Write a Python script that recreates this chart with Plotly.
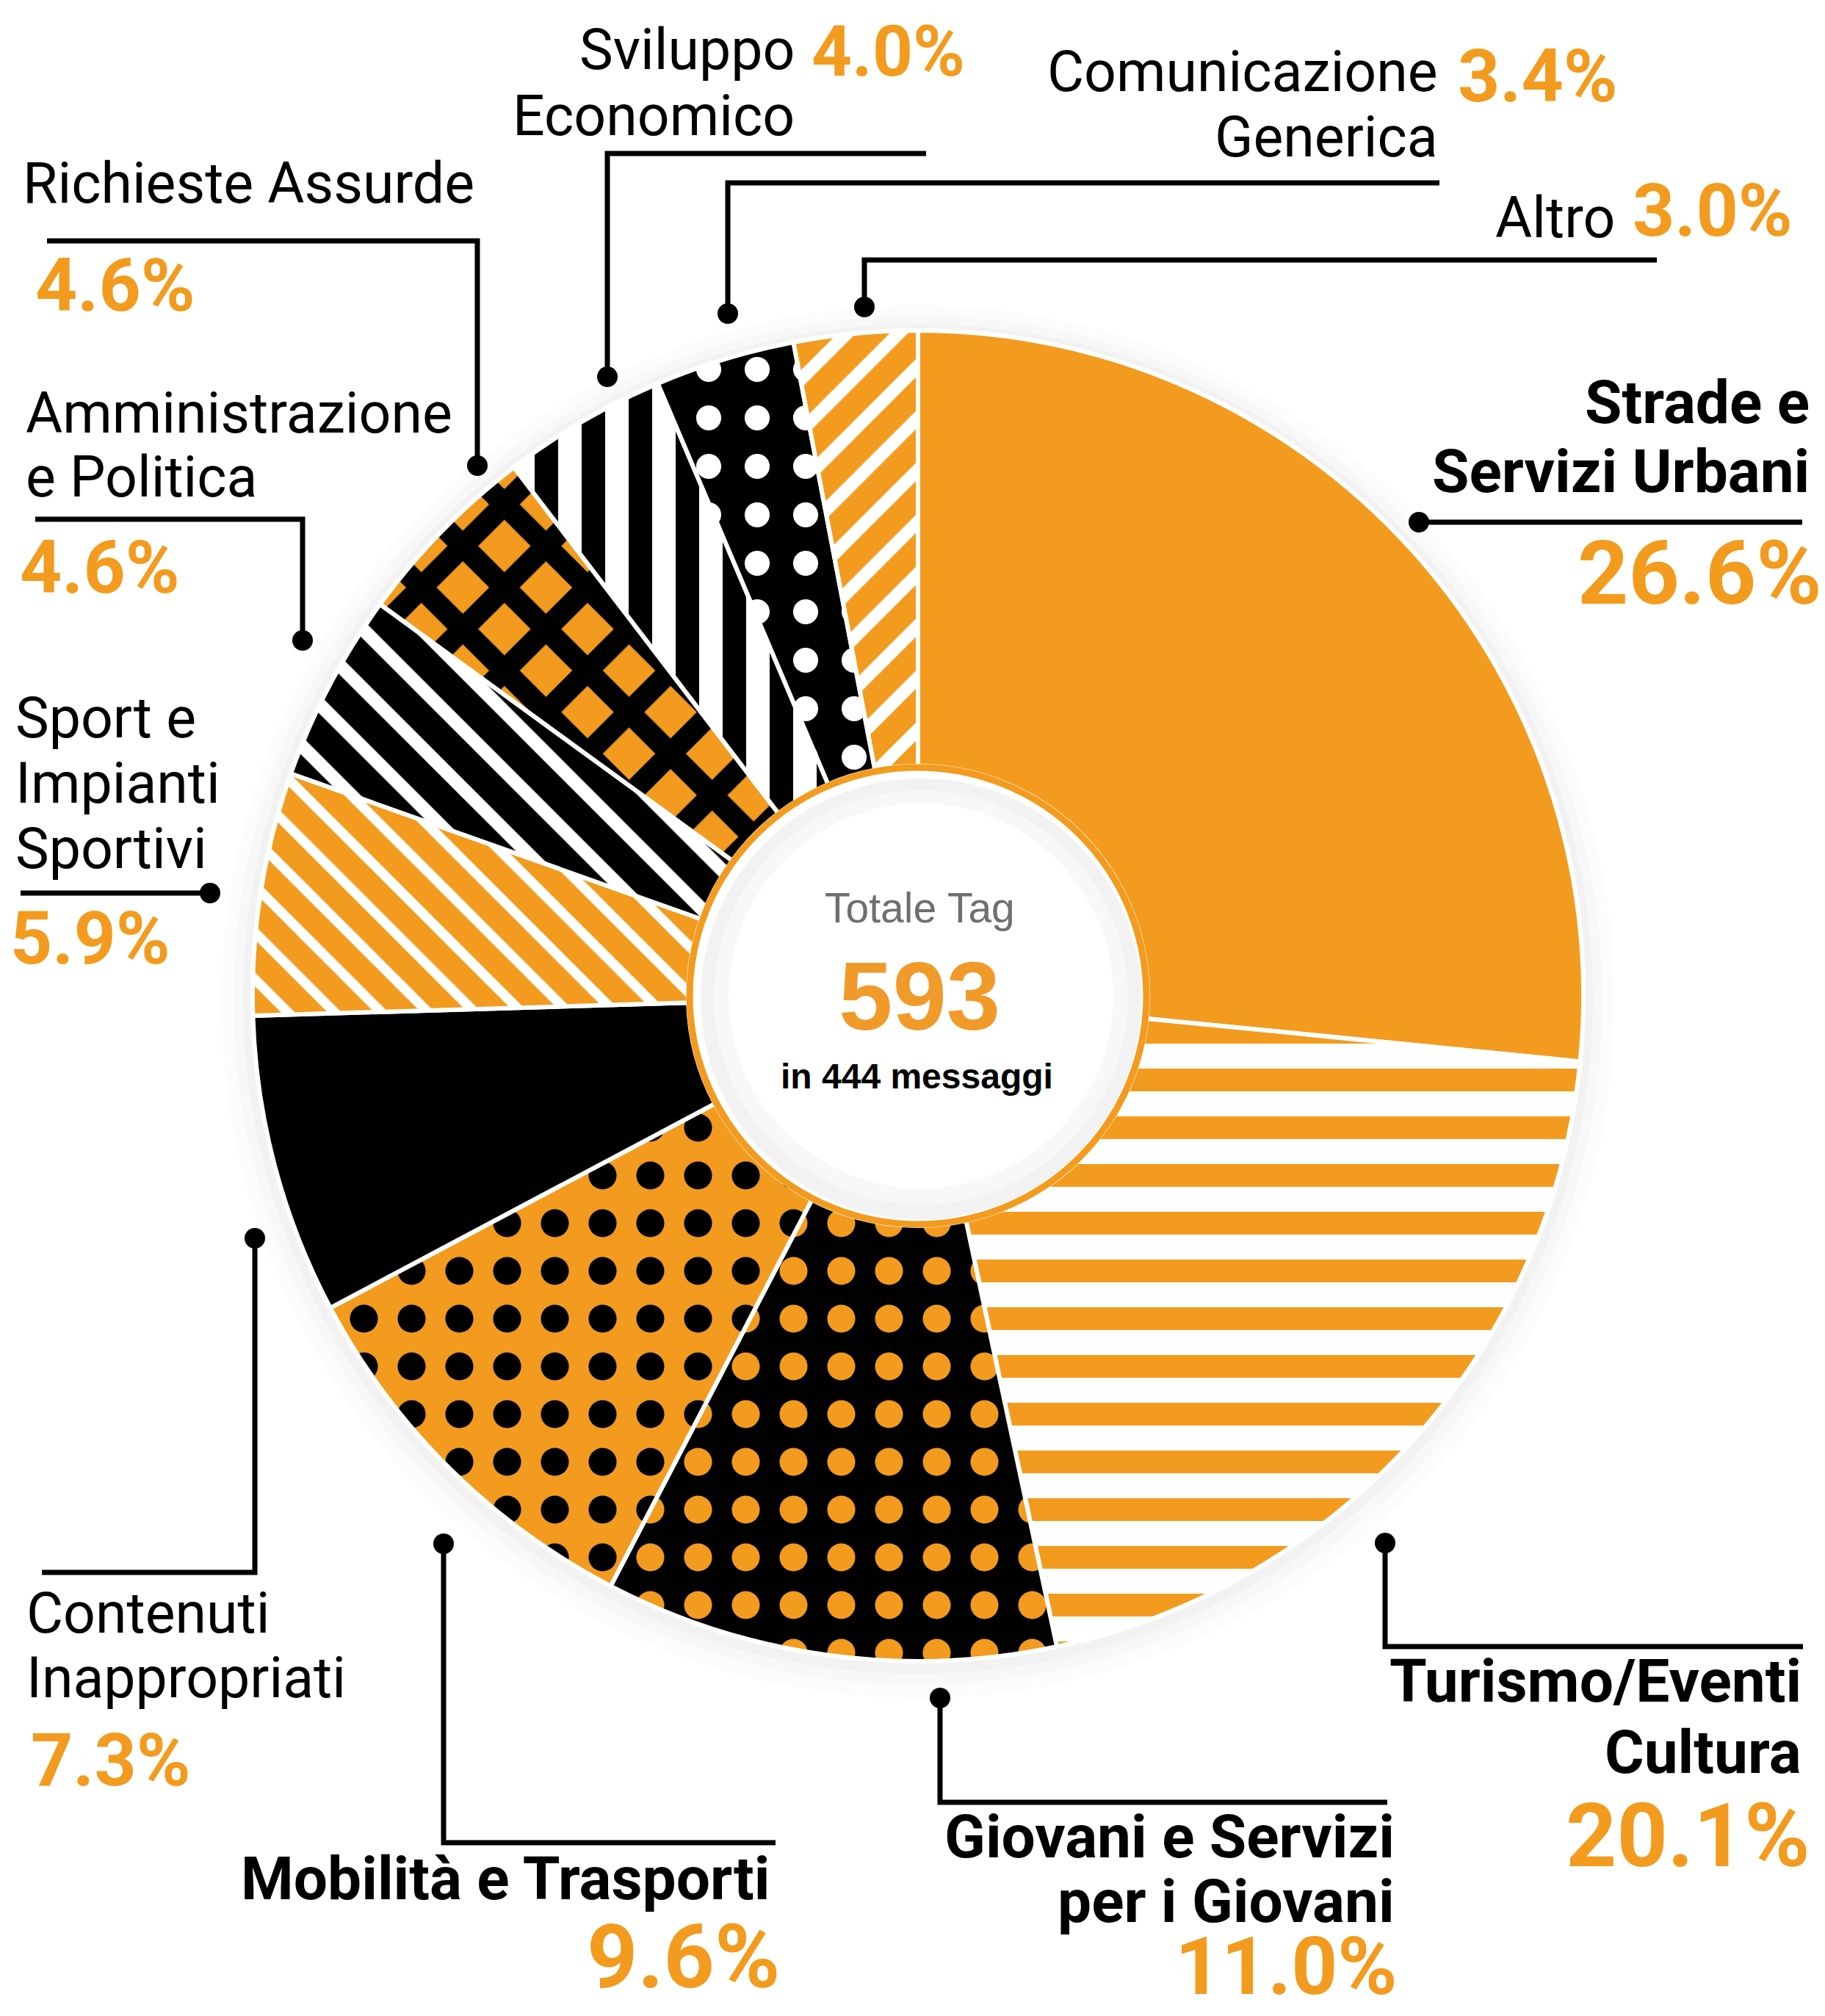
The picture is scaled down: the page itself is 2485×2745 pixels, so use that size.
import plotly.graph_objects as go

W, H = 2485, 2745

# ---------------- data ----------------
categories = ["Strade e Servizi Urbani", "Turismo/Eventi Cultura", "Giovani e Servizi per i Giovani",
              "Mobilità e Trasporti", "Contenuti Inappropriati", "Sport e Impianti Sportivi",
              "Amministrazione e Politica", "Richieste Assurde", "Sviluppo Economico",
              "Comunicazione Generica", "Altro"]
shares = [26.6, 20.1, 11.0, 9.6, 7.3, 5.9, 4.6, 4.6, 4.0, 3.4, 3.0]
total_tags = 593
total_messages = 444

# ---------------- styles ----------------
ORANGE = "#F29B1E"
BLACK = "#000000"
WHITE = "#FFFFFF"
pattern_shapes = ["", "-", ".", ".", "", "\\", "\\", "x", "|", ".", "/"]
pattern_fg = [ORANGE, ORANGE, ORANGE, BLACK, BLACK, ORANGE, BLACK, BLACK, BLACK, WHITE, ORANGE]
pattern_bg = [ORANGE, WHITE, BLACK, ORANGE, BLACK, WHITE, WHITE, ORANGE, WHITE, BLACK, WHITE]
pattern_size = [10, 65, 65, 65, 10, 45, 57, 80, 64, 66, 50]
pattern_solidity = [0.3, 0.48, 0.27, 0.27, 0.3, 0.7, 0.68, 0.6, 0.5, 0.21, 0.65]

cx, cy, R, RH = 1242, 1348, 906, 313


def px(x, y):
    return x / W, 1 - y / H


def circle(xc, yc, r, fill=None, line=None, lw=0, layer="below"):
    return dict(type="circle", xref="paper", yref="paper",
                x0=(xc - r) / W, x1=(xc + r) / W,
                y0=1 - (yc + r) / H, y1=1 - (yc - r) / H,
                fillcolor=fill if fill else "rgba(0,0,0,0)",
                line=dict(color=line if line else "rgba(0,0,0,0)", width=lw),
                layer=layer)


fig = go.Figure()
fig.add_trace(go.Pie(
    values=shares, labels=categories, sort=False, direction="clockwise", rotation=0,
    hole=RH / R, textinfo="none", hoverinfo="label+percent", showlegend=False,
    marker=dict(colors=pattern_bg, line=dict(color=WHITE, width=6),
                pattern=dict(shape=pattern_shapes, fgcolor=pattern_fg, bgcolor=pattern_bg,
                             size=pattern_size, solidity=pattern_solidity, fillmode="replace")),
    domain=dict(x=[(cx - R) / W, (cx + R) / W], y=[1 - (cy + R) / H, 1 - (cy - R) / H]),
))

shapes = [
    circle(cx, cy + 8, R + 42, fill="#fcfcfc"),
    circle(cx, cy + 6, R + 26, fill="#f8f8f8"),
    circle(cx, cy + 4, R + 13, fill="#f2f2f2"),
    circle(cx, cy, RH, fill=WHITE),
    circle(cx + 4, cy + 4, 300, fill="#f2f2f2"),
    circle(cx + 4, cy + 2, 282, fill="#f8f8f8"),
    circle(cx + 4, cy, 262, fill=WHITE),
    circle(cx, cy, RH - 2, line=ORANGE, lw=9, layer="above"),
]

# leader lines (pixel paths) and end dots
leaders = [
    [(819, 505), (819, 201), (1253, 201)],     # Sviluppo
    [(983, 419), (983, 241), (1952, 241)],     # Comunicazione
    [(1169, 410), (1169, 346), (2248, 346)],   # Altro
    [(642, 626), (642, 320), (56, 320)],       # Richieste Assurde
    [(404, 864), (404, 699), (40, 699)],       # Amministrazione
    [(278, 1208), (20, 1208)],                 # Sport
    [(339, 1678), (339, 2133), (49, 2133)],    # Contenuti
    [(596, 2094), (596, 2501), (1048, 2501)],  # Mobilita
    [(1272, 2304), (1272, 2446), (1881, 2446)],  # Giovani
    [(1878, 2093), (1878, 2234), (2447, 2234)],  # Turismo
    [(1924, 703), (2446, 703)],                # Strade
]
for pts in leaders:
    path = ""
    for i, (x, y) in enumerate(pts):
        X, Y = px(x, y)
        path += ("M" if i == 0 else " L") + f"{X:.5f},{Y:.5f}"
    shapes.append(dict(type="path", xref="paper", yref="paper", path=path,
                       line=dict(color=BLACK, width=7), layer="above"))
    shapes.append(circle(pts[0][0], pts[0][1], 14, fill=BLACK, layer="above"))

fig.update_layout(shapes=shapes)

pct = [f"{v:.1f}%" for v in shares]

ann = []
LSHIFT = 10   # left-anchored text offset
YT = 7        # label vertical correction
YP = 9        # percent vertical correction


def add(x, y, text, size, color=BLACK, bold=False, xanchor="left", family="Roboto", dy=YT):
    if xanchor == "left":
        x -= LSHIFT
    X, Y = px(x, y - dy)
    t = f"<b>{text}</b>" if bold else text
    ann.append(dict(x=X, y=Y, xref="paper", yref="paper", text=t, showarrow=False,
                    xanchor=xanchor, yanchor="middle", align=xanchor if xanchor != "center" else "center",
                    font=dict(family=family, size=size, color=color)))


REG = 77
BOLDS = 82
SMALLP = 100
BIGP = 121

# Sviluppo Economico
add(1076, 67, "Sviluppo", REG, xanchor="right")
add(1076, 157, "Economico", REG, xanchor="right")
add(1105, 62, pct[8], 96, ORANGE, True, dy=0)
# Comunicazione Generica
add(1952, 97, "Comunicazione", REG, xanchor="right")
add(1952, 186, "Generica", REG, xanchor="right")
add(1985, 105, pct[9], SMALLP, ORANGE, True, dy=YP)
# Altro
add(2193, 296, "Altro", REG, xanchor="right")
add(2223, 288, pct[10], SMALLP, ORANGE, True, dy=YP)
# Richieste Assurde
add(31, 249, "Richieste Assurde", REG)
add(48, 390, pct[7], SMALLP, ORANGE, True, dy=YP)
# Amministrazione e Politica
add(35, 562, "Amministrazione", REG)
add(35, 649, "e Politica", REG)
add(27, 774, pct[6], SMALLP, ORANGE, True, dy=YP)
# Sport
add(21, 977, "Sport e", REG)
add(21, 1066, "Impianti", REG)
add(21, 1155, "Sportivi", REG)
add(14, 1278, pct[5], SMALLP, ORANGE, True, dy=YP)
# Contenuti
add(36, 2196, "Contenuti", REG)
add(36, 2284, "Inappropriati", REG)
add(42, 2397, pct[4], SMALLP, ORANGE, True, dy=YP)
# Mobilita
add(1043, 2557, "Mobilità e Trasporti", BOLDS, bold=True, xanchor="right")
add(1056, 2670, pct[3], BIGP, ORANGE, True, xanchor="right", dy=YP + 4)
# Giovani
add(1893, 2500, "Giovani e Servizi", BOLDS, bold=True, xanchor="right")
add(1893, 2588, "per i Giovani", BOLDS, bold=True, xanchor="right")
add(1897, 2680, pct[2], 110, ORANGE, True, xanchor="right", dy=YP + 2)
# Turismo
add(2447, 2288, "Turismo/Eventi", BOLDS, bold=True, xanchor="right")
add(2447, 2385, "Cultura", BOLDS, bold=True, xanchor="right")
add(2459, 2501, pct[1], BIGP, ORANGE, True, xanchor="right", dy=YP)
# Strade
add(2458, 547, "Strade e", BOLDS, bold=True, xanchor="right")
add(2458, 641, "Servizi Urbani", BOLDS, bold=True, xanchor="right")
add(2475, 782, pct[0], BIGP, ORANGE, True, xanchor="right", dy=YP)

# center
add(1244, 1237, "Totale Tag", 57, "#6f6f6f", False, "center", "Liberation Sans", dy=9)
add(1244, 1357, str(total_tags), 132, "#F09A2A", True, "center", "Liberation Sans", dy=9)
add(1240, 1466, f"in {total_messages} messaggi", 48, BLACK, True, "center", "Liberation Sans", dy=9)

fig.update_layout(
    width=W, height=H, margin=dict(l=0, r=0, t=0, b=0),
    paper_bgcolor=WHITE, plot_bgcolor=WHITE, showlegend=False,
    annotations=ann,
)

fig.write_html("out.html")
